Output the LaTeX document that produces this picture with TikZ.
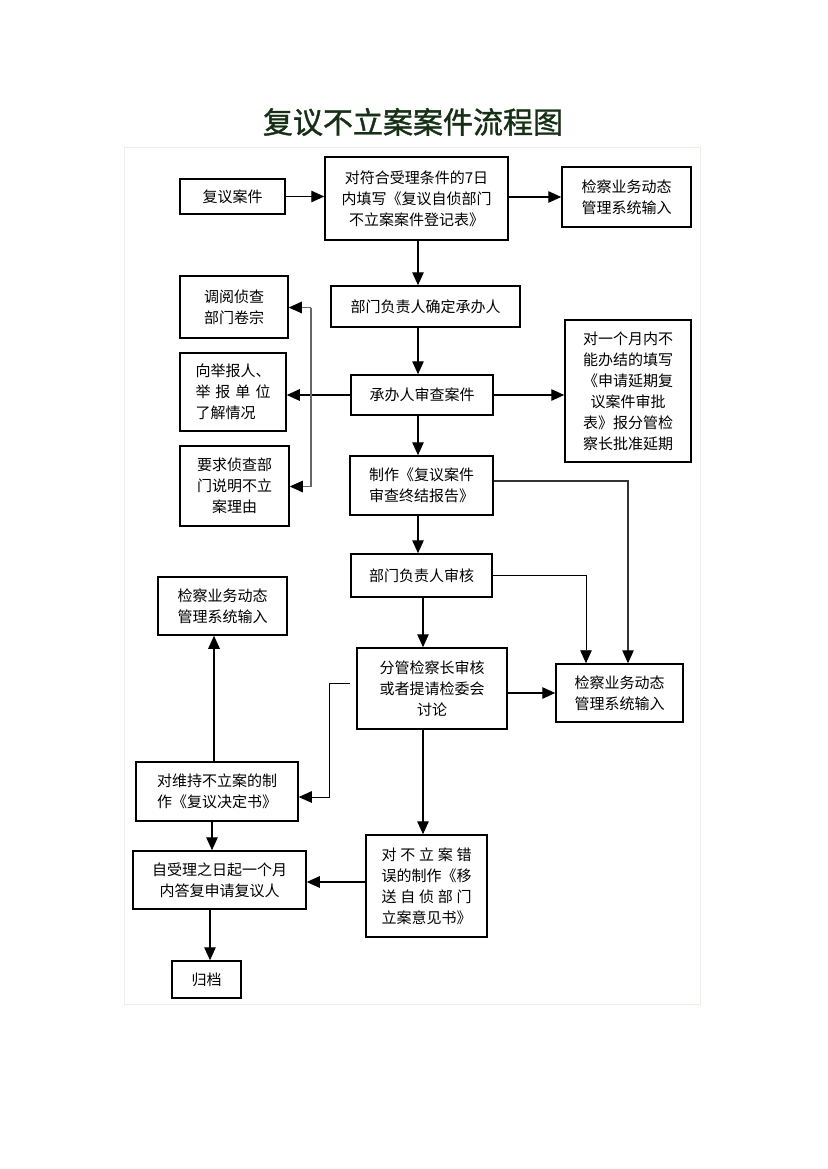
\documentclass[tikz,border=0pt]{standalone}
\usepackage{fontspec}
\newfontfamily\cjk{Noto Sans CJK SC}
\newfontfamily\cjktitle[FakeBold=1.2]{Noto Sans CJK SC}
\usetikzlibrary{arrows.meta}
\definecolor{titlegreen}{RGB}{22,48,22}
\definecolor{framecol}{RGB}{232,240,232}
\tikzset{
  box/.style={draw=black,line width=1.5pt,inner sep=2pt,align=center,
    font=\cjk\fontsize{15}{21}\selectfont},
  arr/.style={draw=black,line width=1.3pt,-{Triangle[length=13pt,width=11.5pt]}},
  thin/.style={draw=black,line width=0.9pt},
  thinarr/.style={thin,-{Triangle[length=13pt,width=11.5pt]}},
  darkarr/.style={draw=black!80,line width=1.2pt,-{Triangle[length=13pt,width=11.5pt,black]}},
  grayline/.style={draw=black!60,line width=1.2pt},
  grayarr/.style={grayline,-{Triangle[length=13pt,width=11.5pt,black]}}
}
\begin{document}
\begin{tikzpicture}[x=1pt,y=-1pt]
\useasboundingbox (0,0) rectangle (827,1169);
\fill[white] (0,0) rectangle (827,1169);
\draw[framecol,line width=1pt] (124,148) rectangle (700,1004);
\node[font=\cjktitle\fontsize{30}{30}\selectfont,text=titlegreen] (title) at (413,122) {复议不立案案件流程图};

\node[box,minimum width=105pt,minimum height=35pt] (q) at (232.5,196.5) {复议案件};
\node[box,minimum width=183pt,minimum height=83pt] (reg) at (416.5,198.5) {对符合受理条件的7日\\内填写《复议自侦部门\\不立案案件登记表》};
\node[box,minimum width=129pt,minimum height=60pt] (in1) at (626.5,197) {检察业务动态\\管理系统输入};
\node[box,minimum width=189pt,minimum height=41pt] (assign) at (425.5,306.5) {部门负责人确定承办人};
\node[box,minimum width=108pt,minimum height=62pt] (read) at (234,307) {调阅侦查\\部门卷宗};
\node[box,minimum width=106pt,minimum height=78pt,align=left] (ask) at (233,392) {向举报人、\\\makebox[5em][s]{举\hfill 报\hfill 单\hfill 位}\\了解情况};
\node[box,minimum width=109pt,minimum height=80pt] (req) at (234.5,486) {要求侦查部\\门说明不立\\案理由};
\node[box,minimum width=142pt,minimum height=40pt] (review) at (422,395) {承办人审查案件};
\node[box,minimum width=126pt,minimum height=142pt] (ext) at (628,391) {对一个月内不\\能办结的填写\\《申请延期复\\议案件审批\\表》报分管检\\察长批准延期};
\node[box,minimum width=143pt,minimum height=59pt,align=left] (report) at (421.5,485.5) {制作《复议案件\\审查终结报告》};
\node[box,minimum width=141pt,minimum height=43pt] (check) at (421.5,575.5) {部门负责人审核};
\node[box,minimum width=129pt,minimum height=58pt] (inL) at (222.5,606) {检察业务动态\\管理系统输入};
\node[box,minimum width=150pt,minimum height=81pt] (chief) at (432,688.5) {分管检察长审核\\或者提请检委会\\讨论};
\node[box,minimum width=127pt,minimum height=58pt] (inR) at (619.5,693) {检察业务动态\\管理系统输入};
\node[box,minimum width=162pt,minimum height=59pt,align=left] (keep) at (217,791.5) {对维持不立案的制\\作《复议决定书》};
\node[box,minimum width=173pt,minimum height=58pt] (reply) at (219.5,880) {自受理之日起一个月\\内答复申请复议人};
\node[box,minimum width=121pt,minimum height=102pt,align=left] (wrong) at (426.5,886) {\makebox[6em][s]{对\hfill 不\hfill 立\hfill 案\hfill 错}\\误的制作《移\\\makebox[6em][s]{送\hfill 自\hfill 侦\hfill 部\hfill 门}\\立案意见书》};
\node[box,minimum width=69pt,minimum height=37pt] (file) at (206.5,979.5) {归档};

% top row
\draw[arr] (q.east) -- (q.east -| reg.west);
\draw[arr] (in1.west -| reg.east) -- (in1.west);
% main column
\coordinate (mx) at (418,0);
\draw[arr] (mx |- reg.south) -- (mx |- assign.north);
\draw[arr] (mx |- assign.south) -- (mx |- review.north);
\draw[arr] (mx |- review.south) -- (mx |- report.north);
\draw[arr] (mx |- report.south) -- (mx |- check.north);
\coordinate (my) at (423,0);
\draw[arr] (my |- check.south) -- (my |- chief.north);
\draw[arr] (my |- chief.south) -- (my |- wrong.north);
% review sides
\draw[arr] (review.east) -- (review.east -| ext.west);
\draw[arr] (review.west) -- (review.west -| ask.east);
% bracket
\coordinate (bt) at (311,307.5);
\coordinate (bb) at (311,486.5);
\draw[grayline] (bt) -- (bb);
\draw[grayarr] (bt) -- (bt -| read.east);
\draw[grayarr] (bb) -- (bb -| req.east);
% right feed lines
\coordinate (r1) at (628,481);
\draw[darkarr] (report.east |- r1) -- (r1) -- (r1 |- inR.north);
\coordinate (r2) at (586,575.5);
\draw[thinarr] (check.east |- r2) -- (r2) -- (r2 |- inR.north);
\draw[arr] (chief.east |- inR.west) -- (inR.west);
% left branch from chief
\coordinate (c1) at (350,683);
\coordinate (c2) at (329,683);
\coordinate (c3) at (329,797);
\draw[thinarr] (c1) -- (c2) -- (c3) -- (c3 -| keep.east);
% keep connections
\coordinate (kx) at (214,0);
\draw[arr] (kx |- keep.north) -- (kx |- inL.south);
\coordinate (kx2) at (212,0);
\draw[arr] (kx2 |- keep.south) -- (kx2 |- reply.north);
\coordinate (w1) at (0,882);
\draw[arr] (wrong.west |- w1) -- (w1 -| reply.east);
\coordinate (fx) at (210,0);
\draw[arr] (fx |- reply.south) -- (fx |- file.north);
\end{tikzpicture}
\end{document}
